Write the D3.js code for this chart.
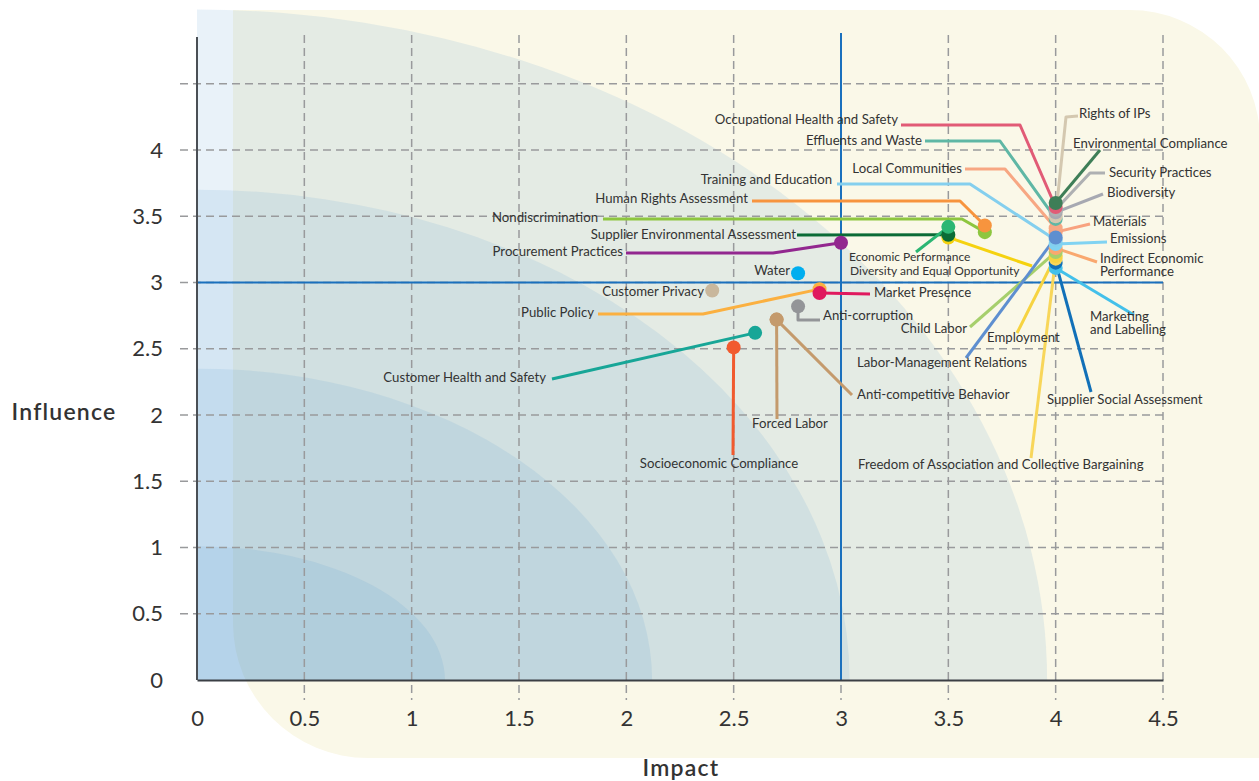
<!DOCTYPE html>
<html>
<head>
<meta charset="utf-8">
<script src="https://cdn.jsdelivr.net/npm/d3@7"></script>
<style>
  html, body { margin: 0; padding: 0; background: #ffffff; }
  svg { display: block; }
  text { font-family: Lato, "Noto Sans", sans-serif; fill: #333333; }
</style>
</head>
<body>
<svg id="chart" width="1259" height="781"></svg>
<script>
// ---- data ----------------------------------------------------------------
const topics = [
  "Socioeconomic Compliance", "Customer Health and Safety", "Anti-competitive Behavior",
  "Forced Labor", "Anti-corruption", "Customer Privacy", "Public Policy", "Market Presence",
  "Water", "Procurement Practices", "Diversity and Equal Opportunity",
  "Supplier Environmental Assessment", "Economic Performance", "Nondiscrimination",
  "Human Rights Assessment", "Marketing\nand Labelling", "Supplier Social Assessment",
  "Freedom of Association and Collective Bargaining", "Employment", "Child Labor",
  "Indirect Economic\nPerformance", "Emissions", "Training and Education", "Materials",
  "Local Communities", "Labor-Management Relations", "Effluents and Waste", "Rights of IPs",
  "Biodiversity", "Security Practices", "Occupational Health and Safety",
  "Environmental Compliance"
];
const impact = [
  2.5, 2.6, 2.7, 2.7, 2.8, 2.4, 2.9, 2.9, 2.8, 3.0, 3.5, 3.5, 3.5, 3.67, 3.67,
  4, 4, 4, 4, 4, 4, 4, 4, 4, 4, 4, 4, 4, 4, 4, 4, 4
];
const influence = [
  2.51, 2.62, 2.72, 2.72, 2.82, 2.94, 2.95, 2.92, 3.07, 3.3, 3.34, 3.36, 3.42, 3.38, 3.43,
  3.11, 3.15, 3.18, 3.2, 3.23, 3.26, 3.29, 3.32, 3.38, 3.41, 3.34, 3.48, 3.5, 3.53, 3.55,
  3.57, 3.6
];
const xTickLabels = [0, 0.5, 1, 1.5, 2, 2.5, 3, 3.5, 4, 4.5];
const yTickLabels = [0, 0.5, 1, 1.5, 2, 2.5, 3, 3.5, 4];
const gridY = [0.5, 1, 1.5, 2, 2.5, 3, 3.5, 4, 4.5];
const threshold = { impact: 3, influence: 3 };
// background priority zones: semi-axes (impact, influence) of each quarter ellipse
const zoneImpact = [3.96, 3.04, 2.12, 1.155];
const zoneInfluence = [5.06, 3.7, 2.35, 1.01];

// ---- styling --------------------------------------------------------------
const palette = [
  "#f15a2e", "#17a697", "#c49a6c", "#c49a6c", "#939598", "#c9b79c", "#fbb040", "#e0195e",
  "#00aeef", "#92278f", "#f5d20f", "#0b6b36", "#2bb673", "#8dc63f", "#f7943e",
  "#43c0ea", "#1170b8", "#f8d65a", "#f6d341", "#a6cf6c", "#f9a86f", "#80d3f2", "#84cfee",
  "#f8a27f", "#f7a783", "#5e8fd0", "#5fb7a5", "#d4c8b0", "#a7a9b2", "#aeb0b2", "#e15b76",
  "#3e7e57"
];

// label placement (pixels): anchor, text position, leader bend/end points, optional size
const labelLayout = {
  "Socioeconomic Compliance": { a: "middle", t: [719, 465], p: [[733, 455]] },
  "Customer Health and Safety": { a: "end", t: [546, 379], p: [[552, 379]] },
  "Anti-competitive Behavior": { a: "start", t: [857, 396], p: [[852, 395]] },
  "Forced Labor": { a: "middle", t: [790, 425], p: [[777, 419]] },
  "Anti-corruption": { a: "start", t: [823, 317], p: [[798, 320], [820, 320]] },
  "Customer Privacy": { a: "end", t: [704, 293], p: [] },
  "Public Policy": { a: "end", t: [594, 314], p: [[703, 314], [598, 314]] },
  "Market Presence": { a: "start", t: [874, 294], p: [[870, 294]] },
  "Water": { a: "end", t: [790, 272], p: [] },
  "Procurement Practices": { a: "end", t: [623, 253], p: [[773, 253], [626, 253]] },
  "Diversity and Equal Opportunity": { a: "start", t: [850, 272], p: [[1032, 266]], s: 12 },
  "Supplier Environmental Assessment": { a: "end", t: [796, 236], p: [[797, 235]] },
  "Economic Performance": { a: "start", t: [849, 258], p: [[916, 252]], s: 12 },
  "Nondiscrimination": { a: "end", t: [598, 219], p: [[962, 219], [603, 219]] },
  "Human Rights Assessment": { a: "end", t: [748, 200], p: [[960, 201], [752, 201]] },
  "Marketing\nand Labelling": { a: "start", t: [1090, 318], p: [[1134, 315]] },
  "Supplier Social Assessment": { a: "start", t: [1047, 401], p: [[1091, 392]] },
  "Freedom of Association and Collective Bargaining": { a: "start", t: [858, 466], p: [[1031, 458]] },
  "Employment": { a: "start", t: [987, 339], p: [[1017, 333]] },
  "Child Labor": { a: "end", t: [967, 330], p: [[970, 327]] },
  "Indirect Economic\nPerformance": { a: "start", t: [1100, 260], p: [[1097, 262]] },
  "Emissions": { a: "start", t: [1110, 240], p: [[1107, 242]] },
  "Training and Education": { a: "end", t: [832, 181], p: [[970, 184], [837, 184]] },
  "Materials": { a: "start", t: [1093, 223], p: [[1090, 224]] },
  "Local Communities": { a: "end", t: [962, 170], p: [[1005, 169], [965, 169]] },
  "Labor-Management Relations": { a: "start", t: [857, 364], p: [[966, 358]] },
  "Effluents and Waste": { a: "end", t: [922, 142], p: [[1000, 141], [925, 141]] },
  "Rights of IPs": { a: "start", t: [1079, 115], p: [[1066, 117], [1078, 116]] },
  "Biodiversity": { a: "start", t: [1107, 194], p: [[1103, 194]] },
  "Security Practices": { a: "start", t: [1109, 174], p: [[1090, 173], [1105, 173]] },
  "Occupational Health and Safety": { a: "end", t: [898, 121], p: [[1020, 125], [901, 125]] },
  "Environmental Compliance": { a: "start", t: [1073, 145], p: [[1100, 150]] }
};

// ---- scales ---------------------------------------------------------------
const x = d3.scaleLinear().domain([0, 4.5]).range([197, 1163]);
const y = d3.scaleLinear().domain([0, 4]).range([680, 150]);

const svg = d3.select("#chart");

// cream backdrop panel
svg.append("path")
  .attr("d", "M233,10 H1130 A130,130 0 0 1 1260,140 V758 H368 A135,135 0 0 1 233,623 Z")
  .attr("fill", "#faf8e8");

// priority zones, quarter ellipses anchored at the origin
const zones = zoneImpact.map((a, i) => ({ a, b: zoneInfluence[i] }));
svg.append("g").selectAll("path").data(zones).join("path")
  .attr("d", d => {
    const rx = x(d.a) - x(0), ry = y(0) - y(d.b);
    return `M${x(0)},${y(0)} L${x(0)},${y(0) - ry} A${rx},${ry} 0 0 1 ${x(0) + rx},${y(0)} Z`;
  })
  .attr("fill", "#4a90d0")
  .attr("fill-opacity", 0.12);

// dashed grid
const grid = svg.append("g")
  .attr("stroke", "#999a9c").attr("stroke-width", 1.5).attr("stroke-dasharray", "8,5");
grid.selectAll("line.v").data(xTickLabels.filter(v => v > 0)).join("line")
  .attr("x1", d => x(d)).attr("x2", d => x(d))
  .attr("y1", 35).attr("y2", 700);
grid.selectAll("line.h").data(gridY).join("line")
  .attr("x1", 180).attr("x2", x(4.5))
  .attr("y1", d => y(d)).attr("y2", d => y(d));

// threshold lines
svg.append("line")
  .attr("x1", x(threshold.impact)).attr("x2", x(threshold.impact))
  .attr("y1", 33).attr("y2", y(0))
  .attr("stroke", "#1a70bd").attr("stroke-width", 2);
svg.append("line")
  .attr("x1", x(0)).attr("x2", x(4.5))
  .attr("y1", y(threshold.influence)).attr("y2", y(threshold.influence))
  .attr("stroke", "#1a70bd").attr("stroke-width", 2);

// axes
const xAxis = svg.append("g").attr("transform", `translate(0,${y(0)})`)
  .call(d3.axisBottom(x).tickValues(xTickLabels).tickSize(0).tickPadding(30)
    .tickFormat(d3.format("")));
xAxis.select(".domain").attr("stroke", "#3b3f44").attr("stroke-width", 2);
xAxis.selectAll("text").attr("font-size", 22).attr("fill", "#222").attr("font-family", "Lato, sans-serif");

const yAxis = svg.append("g").attr("transform", `translate(${x(0)},0)`)
  .call(d3.axisLeft(y).tickValues(yTickLabels).tickSize(0).tickPadding(34)
    .tickFormat(d3.format("")));
yAxis.select(".domain").remove();
yAxis.selectAll("text").attr("font-size", 22).attr("fill", "#222").attr("font-family", "Lato, sans-serif");
svg.append("line")
  .attr("x1", x(0)).attr("x2", x(0)).attr("y1", 37).attr("y2", y(0))
  .attr("stroke", "#4a4f55").attr("stroke-width", 2);

svg.append("text").attr("x", 64).attr("y", 414)
  .attr("text-anchor", "middle").attr("dominant-baseline", "middle")
  .attr("font-family", "'Open Sans', sans-serif")
  .attr("font-size", 23).attr("font-weight", 600).attr("letter-spacing", 1.2).attr("fill", "#222")
  .text("Influence");
svg.append("text").attr("x", 681).attr("y", 770)
  .attr("text-anchor", "middle").attr("dominant-baseline", "middle")
  .attr("font-family", "'Open Sans', sans-serif")
  .attr("font-size", 23).attr("font-weight", 600).attr("letter-spacing", 1.2).attr("fill", "#222")
  .text("Impact");

// ---- marks ----------------------------------------------------------------
const points = topics.map((name, i) => ({
  name, cx: x(impact[i]), cy: y(influence[i]), color: palette[i], lay: labelLayout[name]
}));

svg.append("g").selectAll("path").data(points.filter(d => d.lay.p.length)).join("path")
  .attr("d", d => d3.line()([[d.cx, d.cy], ...d.lay.p]))
  .attr("fill", "none")
  .attr("stroke", d => d.color)
  .attr("stroke-width", 3)
  .attr("stroke-linejoin", "round");

svg.append("g").selectAll("circle").data(points).join("circle")
  .attr("cx", d => d.cx).attr("cy", d => d.cy).attr("r", 7)
  .attr("fill", d => d.color);

const labels = svg.append("g").selectAll("text").data(points).join("text")
  .attr("text-anchor", d => d.lay.a)
  .attr("font-size", d => d.lay.s || 13.2)
  .attr("fill", "#333");
labels.each(function (d) {
  const lines = d.name.split("\n");
  const t = d3.select(this);
  lines.forEach((ln, k) => {
    t.append("tspan")
      .attr("x", d.lay.t[0])
      .attr("y", d.lay.t[1] + k * 12.5)
      .attr("dominant-baseline", "middle")
      .text(ln);
  });
});
</script>
</body>
</html>
